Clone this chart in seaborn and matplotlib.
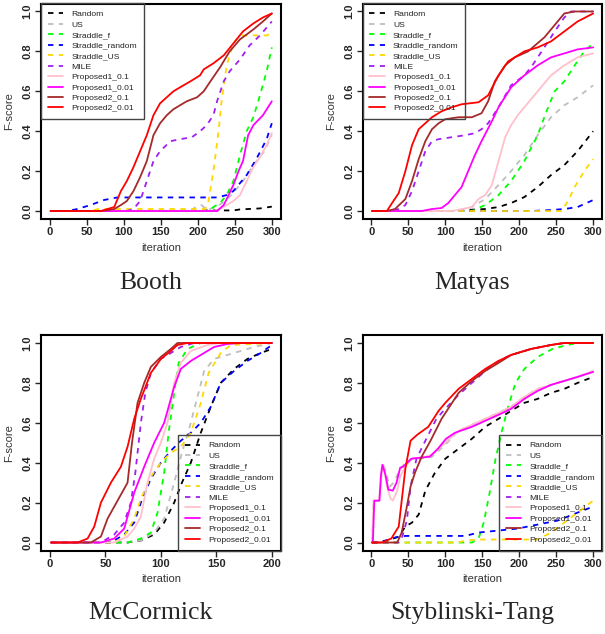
import matplotlib
matplotlib.use("Agg")
import matplotlib.pyplot as plt
import seaborn as sns

# series names, colours, line types (same for every panel)
methods = ["Random", "US", "Straddle_f", "Straddle_random", "Straddle_US", "MILE",
           "Proposed1_0.1", "Proposed1_0.01", "Proposed2_0.1", "Proposed2_0.01"]
colors = ["black", "#bebebe", "#00ff00", "#0000ff", "#ffd700", "#a020f0",
          "#ffc0cb", "#ff00ff", "#a52a2a", "#ff0000"]
dashed = [True, True, True, True, True, True, False, False, False, False]

# values: {method: (iteration, F-score)}
booth = {
    "Random": ([1, 200, 212, 248, 257, 284, 300], [0, 0, 0.003, 0.003, 0.008, 0.013, 0.022]),
    "US": ([1, 190, 197, 205, 212, 225, 240, 250, 261, 275, 290, 300],
           [0, 0, 0.02, 0.03, 0.005, 0.02, 0.06, 0.1, 0.15, 0.23, 0.3, 0.38]),
    "Straddle_f": ([1, 215, 221, 230, 239, 248, 257, 266, 275, 284, 293, 300],
                   [0, 0, 0.02, 0.04, 0.08, 0.15, 0.28, 0.4, 0.47, 0.58, 0.7, 0.82]),
    "Straddle_random": ([1, 24, 37, 55, 73, 91, 226, 239, 248, 257, 266, 279, 293, 300],
                        [0, 0, 0.01, 0.03, 0.055, 0.068, 0.068, 0.08, 0.1, 0.14, 0.18, 0.26, 0.36, 0.44]),
    "Straddle_US": ([1, 55, 65, 210, 214, 221, 228, 232, 239, 248, 257, 293, 300],
                    [0, 0, 0.01, 0.01, 0.04, 0.2, 0.4, 0.55, 0.73, 0.84, 0.88, 0.88, 0.89]),
    "MILE": ([1, 104, 113, 122, 131, 140, 149, 163, 176, 192, 203, 212, 221, 226, 235, 243, 257, 270, 284, 300],
             [0, 0, 0.01, 0.05, 0.15, 0.25, 0.3, 0.35, 0.36, 0.37, 0.4, 0.43, 0.48, 0.55, 0.65, 0.7, 0.76, 0.83, 0.88, 0.95]),
    "Proposed1_0.1": ([1, 221, 230, 248, 257, 266, 275, 284, 293, 300],
                      [0, 0, 0.01, 0.05, 0.08, 0.15, 0.22, 0.27, 0.33, 0.39]),
    "Proposed1_0.01": ([1, 226, 235, 239, 248, 255, 261, 268, 275, 288, 300],
                       [0, 0, 0.03, 0.06, 0.13, 0.2, 0.25, 0.38, 0.43, 0.48, 0.55]),
    "Proposed2_0.1": ([1, 69, 87, 96, 104, 113, 122, 131, 140, 149, 158, 167, 176, 185, 199, 208, 217, 230, 243, 257, 275, 288, 300],
                      [0, 0, 0.01, 0.03, 0.05, 0.1, 0.17, 0.25, 0.38, 0.44, 0.48, 0.51, 0.53, 0.55, 0.57, 0.6, 0.65, 0.72, 0.8, 0.86, 0.91, 0.95, 0.99]),
    "Proposed2_0.01": ([1, 69, 87, 96, 104, 113, 122, 131, 140, 149, 158, 167, 176, 190, 203, 208, 221, 235, 248, 261, 275, 288, 300],
                       [0, 0, 0.02, 0.1, 0.15, 0.22, 0.3, 0.38, 0.48, 0.54, 0.57, 0.6, 0.62, 0.65, 0.68, 0.71, 0.74, 0.78, 0.84, 0.9, 0.94, 0.97, 0.99]),
}

matyas = {
    "Random": ([1, 109, 127, 154, 172, 189, 207, 225, 243, 261, 279, 300],
               [0, 0, 0.005, 0.01, 0.02, 0.04, 0.07, 0.12, 0.18, 0.23, 0.3, 0.4]),
    "US": ([1, 113, 136, 154, 172, 189, 207, 225, 243, 261, 279, 300],
           [0, 0, 0.02, 0.06, 0.13, 0.2, 0.28, 0.38, 0.47, 0.53, 0.57, 0.63]),
    "Straddle_f": ([1, 136, 154, 172, 189, 207, 225, 237, 248, 261, 275, 288, 300],
                   [0, 0, 0.03, 0.08, 0.15, 0.25, 0.38, 0.5, 0.6, 0.65, 0.73, 0.8, 0.84]),
    "Straddle_random": ([1, 216, 243, 261, 279, 300], [0, 0, 0.005, 0.01, 0.02, 0.055]),
    "Straddle_US": ([1, 257, 266, 275, 288, 300], [0, 0, 0.05, 0.12, 0.2, 0.26]),
    "MILE": ([1, 23, 37, 46, 55, 64, 73, 82, 91, 109, 127, 140, 149, 158, 172, 189, 207, 216, 234, 248, 261, 270, 300],
             [0, 0, 0.01, 0.03, 0.1, 0.2, 0.3, 0.35, 0.36, 0.37, 0.38, 0.39, 0.41, 0.44, 0.52, 0.63, 0.68, 0.72, 0.82, 0.9, 0.97, 1.0, 1.0]),
    "Proposed1_0.1": ([1, 109, 136, 145, 154, 163, 172, 181, 189, 198, 216, 234, 243, 261, 279, 300],
                      [0, 0, 0.02, 0.06, 0.08, 0.13, 0.25, 0.37, 0.43, 0.48, 0.56, 0.64, 0.68, 0.73, 0.77, 0.79]),
    "Proposed1_0.01": ([1, 68, 82, 95, 104, 113, 122, 131, 140, 149, 163, 172, 189, 207, 225, 243, 261, 279, 300],
                       [0, 0, 0.01, 0.015, 0.04, 0.08, 0.12, 0.2, 0.28, 0.35, 0.45, 0.52, 0.62, 0.68, 0.73, 0.77, 0.79, 0.81, 0.82]),
    "Proposed2_0.1": ([1, 21, 32, 46, 55, 64, 73, 82, 91, 100, 118, 136, 149, 158, 167, 181, 194, 212, 234, 252, 261, 275, 300],
                      [0, 0, 0.01, 0.06, 0.15, 0.26, 0.35, 0.41, 0.44, 0.46, 0.47, 0.47, 0.49, 0.55, 0.65, 0.73, 0.77, 0.8, 0.87, 0.95, 0.99, 1.0, 1.0]),
    "Proposed2_0.01": ([1, 21, 28, 37, 46, 55, 64, 73, 82, 95, 109, 122, 145, 158, 172, 185, 207, 225, 243, 261, 279, 300],
                       [0, 0, 0.04, 0.09, 0.2, 0.33, 0.41, 0.44, 0.47, 0.5, 0.52, 0.535, 0.545, 0.58, 0.68, 0.75, 0.8, 0.82, 0.85, 0.9, 0.95, 0.99]),
}

mccormick = {
    "Random": ([1, 70, 82, 94, 103, 112, 119, 127, 136, 145, 154, 166, 178, 190, 200],
               [0, 0, 0.01, 0.04, 0.1, 0.2, 0.3, 0.4, 0.55, 0.68, 0.8, 0.87, 0.92, 0.95, 0.97]),
    "US": ([1, 67, 82, 94, 103, 112, 119, 127, 133, 139, 148, 166, 184, 200],
           [0, 0, 0.01, 0.05, 0.12, 0.3, 0.45, 0.6, 0.73, 0.86, 0.92, 0.95, 0.98, 1.0]),
    "Straddle_f": ([1, 70, 82, 91, 97, 103, 107, 112, 116, 124, 136, 200],
                   [0, 0, 0.02, 0.05, 0.15, 0.35, 0.55, 0.75, 0.9, 0.97, 1.0, 1.0]),
    "Straddle_random": ([1, 55, 67, 76, 82, 91, 100, 109, 118, 127, 136, 145, 154, 166, 178, 190, 200],
                        [0, 0, 0.04, 0.1, 0.2, 0.32, 0.4, 0.46, 0.51, 0.55, 0.6, 0.68, 0.8, 0.86, 0.91, 0.95, 0.99]),
    "Straddle_US": ([1, 58, 67, 76, 82, 91, 100, 109, 118, 127, 136, 143, 154, 163, 200],
                    [0, 0, 0.03, 0.12, 0.22, 0.33, 0.4, 0.45, 0.48, 0.55, 0.7, 0.85, 0.95, 0.99, 1.0]),
    "MILE": ([1, 46, 58, 67, 73, 77, 82, 86, 91, 100, 109, 118, 130, 200],
             [0, 0, 0.04, 0.1, 0.2, 0.35, 0.6, 0.75, 0.85, 0.92, 0.95, 0.98, 1.0, 1.0]),
    "Proposed1_0.1": ([1, 58, 70, 76, 82, 88, 94, 100, 106, 112, 118, 127, 142, 154, 200],
                      [0, 0, 0.03, 0.07, 0.13, 0.3, 0.42, 0.5, 0.6, 0.8, 0.9, 0.96, 0.99, 1.0, 1.0]),
    "Proposed1_0.01": ([1, 46, 58, 67, 76, 85, 94, 103, 112, 118, 127, 136, 148, 160, 172, 200],
                       [0, 0, 0.02, 0.07, 0.25, 0.38, 0.5, 0.6, 0.78, 0.87, 0.91, 0.94, 0.98, 0.995, 1.0, 1.0]),
    "Proposed2_0.1": ([1, 37, 46, 52, 58, 64, 70, 74, 79, 85, 91, 100, 109, 115, 200],
                      [0, 0, 0.03, 0.12, 0.18, 0.24, 0.3, 0.5, 0.7, 0.8, 0.88, 0.93, 0.97, 1.0, 1.0]),
    "Proposed2_0.01": ([1, 25, 34, 40, 46, 55, 64, 70, 76, 82, 91, 100, 109, 115, 124, 200],
                       [0, 0, 0.02, 0.08, 0.2, 0.3, 0.38, 0.48, 0.62, 0.72, 0.85, 0.92, 0.96, 0.99, 1.0, 1.0]),
}

styblinski = {
    "Random": ([1, 10, 23, 37, 46, 55, 64, 73, 86, 100, 118, 136, 154, 172, 189, 207, 225, 243, 261, 279, 300],
               [0, 0, 0.01, 0.03, 0.08, 0.1, 0.14, 0.26, 0.35, 0.42, 0.47, 0.52, 0.58, 0.62, 0.66, 0.7, 0.72, 0.75, 0.77, 0.8, 0.83]),
    "US": ([1, 3, 10, 14, 16, 21, 25, 30, 34, 39, 46, 55, 64, 82, 100, 118, 136, 154, 172, 189, 207, 225, 243, 261, 279, 300],
           [0, 0.2, 0.21, 0.35, 0.4, 0.33, 0.28, 0.3, 0.33, 0.37, 0.4, 0.42, 0.42, 0.43, 0.49, 0.56, 0.59, 0.62, 0.65, 0.68, 0.73, 0.77, 0.79, 0.81, 0.83, 0.86]),
    "Straddle_f": ([1, 136, 145, 152, 160, 168, 176, 185, 195, 207, 225, 245, 265, 280, 300],
                   [0, 0, 0.02, 0.1, 0.25, 0.42, 0.55, 0.68, 0.8, 0.87, 0.93, 0.97, 0.99, 1.0, 1.0]),
    "Straddle_random": ([1, 5, 19, 32, 46, 127, 145, 172, 198, 225, 252, 279, 300],
                        [0, 0, 0.01, 0.025, 0.033, 0.033, 0.05, 0.06, 0.07, 0.09, 0.11, 0.15, 0.18]),
    "Straddle_US": ([1, 118, 127, 145, 225, 243, 261, 279, 300],
                    [0, 0, 0.01, 0.015, 0.015, 0.05, 0.1, 0.15, 0.21]),
    "MILE": ([1, 37, 41, 48, 53, 61, 73, 88, 100, 118, 136, 154, 172, 189, 216, 243, 261, 300],
             [0, 0, 0.02, 0.11, 0.28, 0.42, 0.51, 0.62, 0.67, 0.74, 0.8, 0.86, 0.91, 0.94, 0.97, 0.99, 1.0, 1.0]),
    "Proposed1_0.1": ([1, 3, 10, 14, 17, 21, 26, 29, 35, 39, 46, 55, 73, 82, 100, 118, 136, 154, 172, 189, 207, 225, 243, 261, 279, 300],
                      [0, 0.21, 0.21, 0.35, 0.38, 0.28, 0.22, 0.21, 0.26, 0.33, 0.38, 0.42, 0.43, 0.44, 0.5, 0.56, 0.59, 0.62, 0.65, 0.68, 0.73, 0.77, 0.79, 0.81, 0.83, 0.86]),
    "Proposed1_0.01": ([1, 2, 4, 11, 13, 15, 19, 23, 29, 34, 39, 43, 54, 79, 90, 101, 113, 136, 154, 172, 189, 207, 225, 243, 261, 279, 300],
                       [0, 0, 0.21, 0.21, 0.34, 0.39, 0.34, 0.265, 0.26, 0.3, 0.375, 0.38, 0.42, 0.43, 0.47, 0.52, 0.55, 0.58, 0.61, 0.64, 0.67, 0.72, 0.76, 0.79, 0.81, 0.83, 0.855]),
    "Proposed2_0.1": ([1, 35, 41, 48, 53, 59, 68, 80, 95, 118, 136, 154, 172, 189, 216, 243, 261, 300],
                      [0, 0, 0.05, 0.18, 0.28, 0.35, 0.43, 0.51, 0.62, 0.75, 0.81, 0.86, 0.9, 0.94, 0.97, 0.99, 1.0, 1.0]),
    "Proposed2_0.01": ([1, 14, 27, 37, 46, 53, 62, 77, 91, 100, 118, 136, 154, 172, 189, 216, 243, 261, 300],
                       [0, 0, 0.02, 0.08, 0.37, 0.51, 0.54, 0.58, 0.66, 0.7, 0.77, 0.82, 0.87, 0.91, 0.94, 0.97, 0.99, 1.0, 1.0]),
}

panel_titles = ["Booth", "Matyas", "McCormick", "Styblinski-Tang"]
panel_data = [booth, matyas, mccormick, styblinski]
panel_xmax = [300, 300, 200, 300]
legend_corner = ["upper left", "upper left", "lower right", "lower right"]

sns.set_style("white")
plt.rcParams["font.family"] = ["Liberation Sans", "DejaVu Sans"]

W, H = 605, 634
fig = plt.figure(figsize=(W / 100, H / 100), dpi=100)

# axes boxes in pixels: left, top, right, bottom
boxes = [(41, 3.5, 280.7, 219), (362.5, 3.5, 602, 219),
         (41, 335, 280.7, 550.5), (362.5, 335, 602, 550.5)]
caption_y = [283, 283, 613, 613]

for i, data in enumerate(panel_data):
    l, t, r, b = boxes[i]
    ax = fig.add_axes([l / W, 1 - b / H, (r - l) / W, (b - t) / H])
    for name, col, dsh in zip(methods, colors, dashed):
        xs, ys = data[name]
        sns.lineplot(x=xs, y=ys, ax=ax, color=col, linewidth=1.3, label=name,
                     estimator=None, sort=False)
        if dsh:
            ax.lines[-1].set_dashes((3, 3))
    xmax = panel_xmax[i]
    ax.set_xlim(-0.04 * xmax, 1.04 * xmax)
    ax.set_ylim(-0.04, 1.04)
    ax.set_xticks(list(range(0, xmax + 1, 50)))
    ax.set_yticks([0, 0.2, 0.4, 0.6, 0.8, 1.0])
    ax.set_yticklabels(["0.0", "0.2", "0.4", "0.6", "0.8", "1.0"], rotation=90, va="center")
    ax.tick_params(direction="out", length=4, width=1, pad=2, labelsize=8, bottom=True, left=True)
    for lab in ax.get_xticklabels() + ax.get_yticklabels():
        lab.set_fontweight("bold")
    for sp in ax.spines.values():
        sp.set_linewidth(1.5)
        sp.set_color("black")
    ax.set_xlabel("iteration", fontsize=8, color="#333333", labelpad=4)
    ax.set_ylabel("F-score", fontsize=8, color="#333333", labelpad=6)
    anchor = (0, 1) if legend_corner[i] == "upper left" else (1, 0)
    leg = ax.legend(loc=legend_corner[i], bbox_to_anchor=anchor, borderaxespad=0,
                    fontsize=6.1, frameon=True, fancybox=False,
                    edgecolor="#444444", handlelength=1.8, handletextpad=1.0,
                    labelspacing=0.3, borderpad=0.8)
    frame = leg.get_frame()
    frame.set_facecolor("none")
    frame.set_alpha(1)
    frame.set_linewidth(1.0)
    for txt in leg.get_texts():
        txt.set_color("#222222")
    cx = (l + r) / 2 - 10
    fig.text(cx / W, 1 - caption_y[i] / H, panel_titles[i], ha="center", va="center",
             fontsize=18.5, family="Liberation Serif")

fig.savefig("out.png", dpi=100)
